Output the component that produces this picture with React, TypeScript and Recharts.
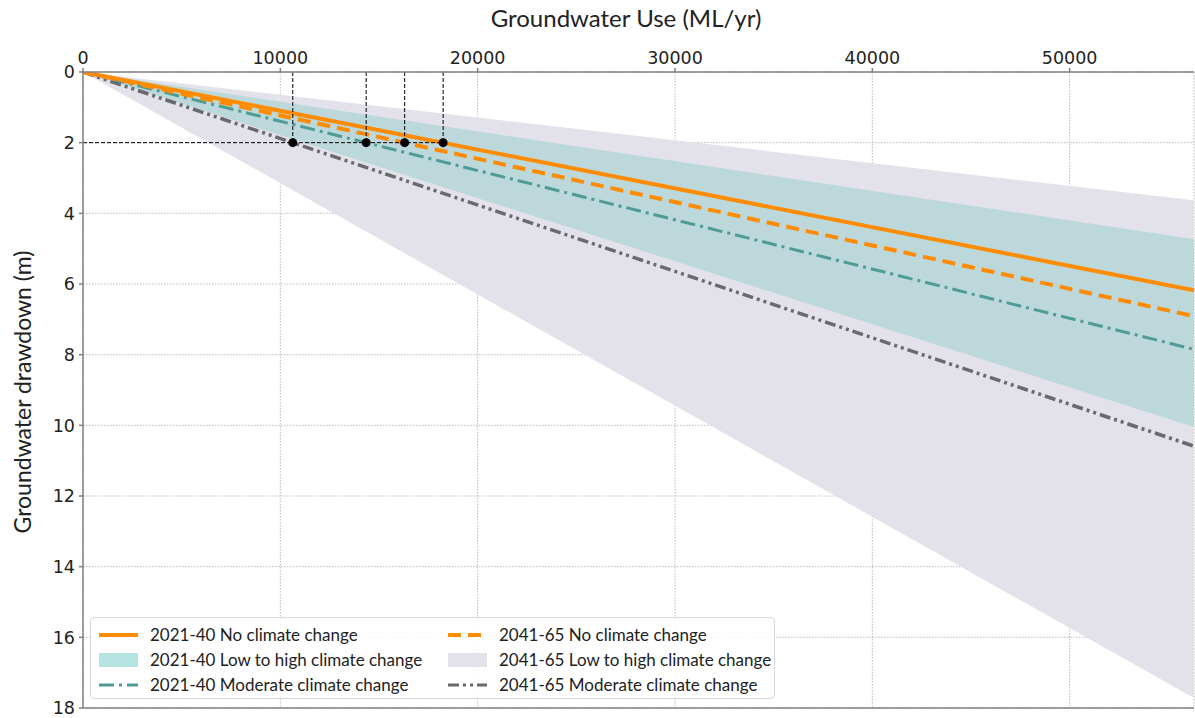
import React from 'react';
import {
  ComposedChart, Line, Area, Scatter, XAxis, YAxis, CartesianGrid, ReferenceLine,
} from 'recharts';

// Groundwater use (ML/yr) at the two ends of the drawn range
const groundwaterUse = [0, 56300];
// Drawdown (m) at each end
const noCC2021 = [0, 6.18];
const noCC2041 = [0, 6.91];
const moderate2021 = [0, 7.85];
const moderate2041 = [0, 10.59];
const band2021Low = [0, 4.73];
const band2021High = [0, 10.05];
const band2041Low = [0, 3.63];
const band2041High = [0, 17.72];

// Use at which each scenario reaches 2 m drawdown
const thresholdDrawdown = 2;
const thresholdUse = [10630, 14350, 16300, 18250];

const xTicks = [0, 10000, 20000, 30000, 40000, 50000];
const yTicks = [0, 2, 4, 6, 8, 10, 12, 14, 16, 18];

const legendItems = [
  { label: '2021-40 No climate change', kind: 'line', color: '#ff8c00', dash: '', width: 4 },
  { label: '2041-65 No climate change', kind: 'line', color: '#ff8c00', dash: '13 7', width: 4 },
  { label: '2021-40 Low to high climate change', kind: 'patch', color: '#b5e3e1' },
  { label: '2041-65 Low to high climate change', kind: 'patch', color: '#e3e2ea' },
  { label: '2021-40 Moderate climate change', kind: 'line', color: '#4f9b96', dash: '15 5 3 5', width: 3 },
  { label: '2041-65 Moderate climate change', kind: 'line', color: '#69696e', dash: '11 4 3 4 3 4', width: 3 },
];

const rows = groundwaterUse.map((x, i) => ({
  x,
  noCC2021: noCC2021[i],
  noCC2041: noCC2041[i],
  moderate2021: moderate2021[i],
  moderate2041: moderate2041[i],
  band2021: [band2021Low[i], band2021High[i]],
  band2041: [band2041Low[i], band2041High[i]],
}));

const points = thresholdUse.map((x) => ({ x, y: thresholdDrawdown }));

const labelFont = 'Lato, "Open Sans", sans-serif';
const tickFont = '"DejaVu Sans", sans-serif';

const XTitle = () => (
  <text x={626} y={27} textAnchor="middle" fontFamily={labelFont} fontSize={24} fill="#222">
    Groundwater Use (ML/yr)
  </text>
);

const YTitle = () => (
  <text
    x={22}
    y={392}
    transform="rotate(-90, 22, 392)"
    textAnchor="middle"
    dominantBaseline="central"
    fontFamily={labelFont}
    fontSize={23}
    fill="#222"
  >
    Groundwater drawdown (m)
  </text>
);

const Dot = (props: any) => <circle cx={props.cx} cy={props.cy} r={4.5} fill="#000" />;

const Legend = () => (
  <div
    style={{
      position: 'absolute',
      left: 90,
      top: 617,
      width: 685,
      height: 82,
      border: '1px solid #d8d8d8',
      borderRadius: 4,
      background: 'rgba(255,255,255,0.85)',
      boxSizing: 'border-box',
      fontFamily: labelFont,
      fontSize: 17,
      color: '#222',
    }}
  >
    {legendItems.map((it, i) => {
      const col = i % 2;
      const row = Math.floor(i / 2);
      const left = col === 0 ? 7 : 356;
      const top = 4 + row * 25;
      return (
        <div key={it.label} style={{ position: 'absolute', left, top, height: 25, display: 'flex', alignItems: 'center', whiteSpace: 'nowrap' }}>
          <svg width={42} height={20} style={{ marginRight: 10 }}>
            {it.kind === 'patch' ? (
              <rect x={1} y={3} width={39} height={14} fill={it.color} />
            ) : (
              <line x1={1} y1={10} x2={40} y2={10} stroke={it.color} strokeWidth={it.width} strokeDasharray={it.dash} />
            )}
          </svg>
          <span>{it.label}</span>
        </div>
      );
    })}
  </div>
);

export default function App() {
  return (
    <div style={{ position: 'absolute', left: 0, top: 0, width: 1195, height: 718, background: '#fff' }}>
      <ComposedChart
        width={1195}
        height={718}
        data={rows}
        margin={{ top: 0, right: 1, bottom: 10, left: 0 }}
      >
        <CartesianGrid stroke="#a8a8a8" strokeDasharray="1.5 1.5" strokeWidth={0.8} />
        <XAxis
          dataKey="x"
          type="number"
          orientation="top"
          domain={[0, 56300]}
          ticks={xTicks}
          allowDataOverflow
          height={72}
          stroke="#808080"
          strokeWidth={1.5}
          tickSize={4}
          tickMargin={4}
          tick={{ fontFamily: tickFont, fontSize: 17.5, fill: '#222' }}
          label={<XTitle />}
        />
        <YAxis
          type="number"
          reversed
          domain={[0, 18]}
          ticks={yTicks}
          allowDataOverflow
          width={83}
          stroke="#808080"
          strokeWidth={1.5}
          tickSize={4}
          tickMargin={4}
          tick={{ fontFamily: tickFont, fontSize: 17.5, fill: '#222' }}
          label={<YTitle />}
        />
        <Area dataKey="band2041" stroke="none" fill="#e3e2ea" fillOpacity={1} isAnimationActive={false} />
        <Area dataKey="band2021" stroke="none" fill="#bcd8db" fillOpacity={1} isAnimationActive={false} />
        <ReferenceLine y={18} stroke="#808080" strokeWidth={1.5} />
        <Line dataKey="moderate2041" stroke="#69696e" strokeWidth={3.5} strokeDasharray="11 4 3 4 3 4" dot={false} isAnimationActive={false} />
        <Line dataKey="moderate2021" stroke="#4f9b96" strokeWidth={3} strokeDasharray="15 5 3 5" dot={false} isAnimationActive={false} />
        <Line dataKey="noCC2041" stroke="#ff8c00" strokeWidth={4} strokeDasharray="13 7" dot={false} isAnimationActive={false} />
        <Line dataKey="noCC2021" stroke="#ff8c00" strokeWidth={4} dot={false} isAnimationActive={false} />
        <ReferenceLine
          segment={[{ x: 0, y: thresholdDrawdown }, { x: thresholdUse[thresholdUse.length - 1], y: thresholdDrawdown }]}
          stroke="#000"
          strokeDasharray="4 2"
          strokeWidth={1}
        />
        {thresholdUse.map((u) => (
          <ReferenceLine
            key={u}
            segment={[{ x: u, y: 0 }, { x: u, y: thresholdDrawdown }]}
            stroke="#000"
            strokeDasharray="4 2"
            strokeWidth={1}
          />
        ))}
        <Scatter data={points} dataKey="y" shape={<Dot />} isAnimationActive={false} />
      </ComposedChart>
      <Legend />
    </div>
  );
}
